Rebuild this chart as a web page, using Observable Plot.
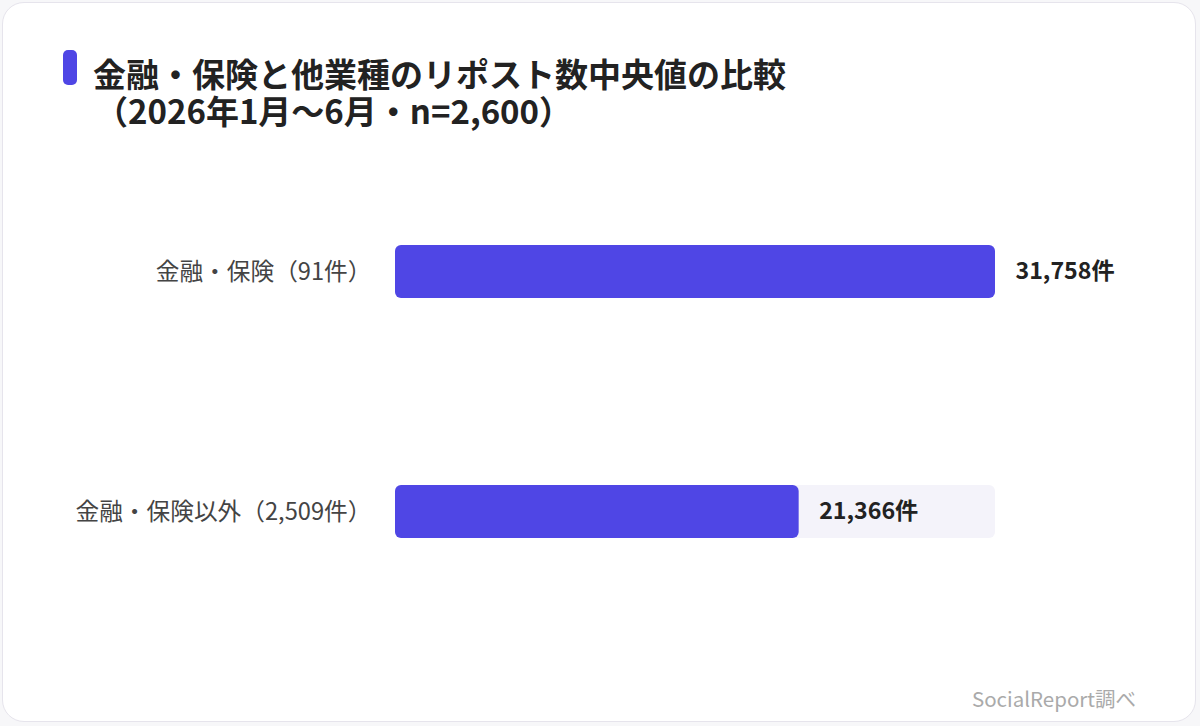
<!DOCTYPE html>
<html><head><meta charset="utf-8">
<script src="https://cdn.jsdelivr.net/npm/d3@7"></script>
<script src="https://cdn.jsdelivr.net/npm/@observablehq/plot@0.6"></script>
<style>
html,body{margin:0;padding:0;background:#f7f7f9;}
body{width:1200px;height:726px;position:relative;overflow:hidden;font-family:"Noto Sans CJK JP","Noto Sans",sans-serif;}
#card{position:absolute;left:2px;top:2px;width:1194px;height:720px;background:#fff;border:1px solid #e6e4ec;border-radius:22px;box-sizing:border-box;}
#accent{position:absolute;left:63px;top:50px;width:14px;height:35px;border-radius:5px;background:#4f46e5;}
.t{position:absolute;left:93px;font-size:33px;font-weight:700;color:#222;line-height:36px;white-space:nowrap;}
#t1{top:55px;}
#t2{top:92px;left:95px;}
#plot{position:absolute;left:0;top:150px;}
#foot{position:absolute;right:64px;top:684px;font-size:20.5px;color:#aaa;line-height:28px;}
</style></head><body>
<div id="card"></div>
<div id="accent"></div>
<div class="t" id="t1">金融・保険と他業種のリポスト数中央値の比較</div>
<div class="t" id="t2">（2026年1月～6月・n=2,600）</div>
<div id="plot"></div>
<div id="foot">SocialReport調べ</div>
<script>
const categories = ["金融・保険（91件）", "金融・保険以外（2,509件）"];
const medians = [31758, 21366];
const valueLabels = ["31,758件", "21,366件"];

const data = categories.map((c, i) => ({cat: c, value: medians[i], label: valueLabels[i]}));
const maxV = d3.max(medians);

const chart = Plot.plot({
  width: 1200,
  height: 490,
  marginLeft: 395,
  marginRight: 205,
  marginTop: 23,
  marginBottom: 30,
  style: {fontFamily: '"Noto Sans CJK JP","Noto Sans",sans-serif', background: "transparent"},
  x: {domain: [0, maxV], axis: null},
  y: {domain: categories, paddingInner: 0.78, paddingOuter: 0.3, label: null},
  marks: [
    Plot.barX(data, {y: "cat", x1: 0, x2: maxV, fill: "#f4f3fa", rx: 6}),
    Plot.barX(data, {y: "cat", x: "value", fill: "#4f46e5", rx: 6}),
    Plot.axisY({tickSize: 0, tickPadding: 24, fontSize: 23.7, color: "#444", label: null}),
    Plot.text(data, {y: "cat", x: "value", text: "label", dx: 20, textAnchor: "start", fontSize: 23.2, fontWeight: 700, fill: "#222"})
  ]
});
document.getElementById("plot").appendChild(chart);
</script>
</body></html>
